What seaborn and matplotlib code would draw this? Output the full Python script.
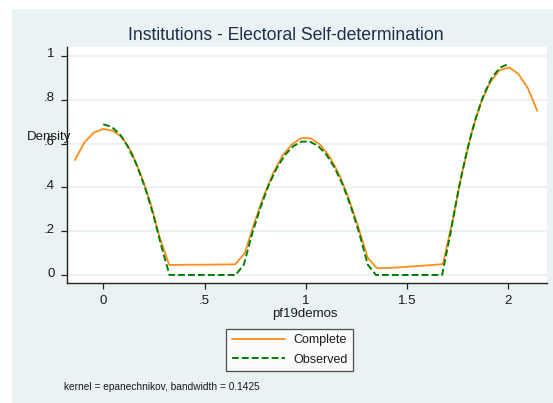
import numpy as np
import pandas as pd
import matplotlib
matplotlib.use("Agg")
from matplotlib import pyplot as plt
from matplotlib.patches import Rectangle
from matplotlib.transforms import ScaledTranslation
import seaborn as sns

# Kernel density estimates (50 evaluation points each)
complete_x = [-0.140, -0.093, -0.047, 0.000, 0.046, 0.093, 0.140, 0.186, 0.233, 0.279,
              0.326, 0.373, 0.419, 0.466, 0.512, 0.559, 0.606, 0.652, 0.699, 0.745,
              0.792, 0.839, 0.885, 0.932, 0.978, 1.025, 1.072, 1.118, 1.165, 1.211,
              1.258, 1.305, 1.351, 1.398, 1.444, 1.491, 1.538, 1.584, 1.631, 1.677,
              1.724, 1.771, 1.817, 1.864, 1.910, 1.957, 2.004, 2.050, 2.097, 2.143]
complete_y = [0.525, 0.605, 0.650, 0.667, 0.659, 0.629, 0.560, 0.457, 0.330, 0.170,
              0.046, 0.046, 0.047, 0.047, 0.047, 0.048, 0.048, 0.049, 0.100, 0.235,
              0.360, 0.465, 0.545, 0.597, 0.625, 0.624, 0.594, 0.540, 0.458, 0.352,
              0.222, 0.080, 0.031, 0.032, 0.034, 0.037, 0.040, 0.043, 0.046, 0.050,
              0.245, 0.465, 0.645, 0.785, 0.880, 0.935, 0.948, 0.918, 0.852, 0.749]

observed_x = [0.000, 0.041, 0.082, 0.122, 0.163, 0.204, 0.245, 0.286, 0.327, 0.367,
              0.408, 0.449, 0.490, 0.531, 0.571, 0.612, 0.653, 0.694, 0.735, 0.776,
              0.816, 0.857, 0.898, 0.939, 0.980, 1.020, 1.061, 1.102, 1.143, 1.184,
              1.224, 1.265, 1.306, 1.347, 1.388, 1.429, 1.469, 1.510, 1.551, 1.592,
              1.633, 1.673, 1.714, 1.755, 1.796, 1.837, 1.878, 1.918, 1.959, 2.000]
observed_y = [0.688, 0.677, 0.643, 0.586, 0.507, 0.406, 0.282, 0.135, 0.000, 0.000,
              0.000, 0.000, 0.000, 0.000, 0.000, 0.000, 0.000, 0.047, 0.188, 0.308,
              0.409, 0.489, 0.549, 0.589, 0.609, 0.609, 0.589, 0.549, 0.489, 0.409,
              0.308, 0.188, 0.047, 0.000, 0.000, 0.000, 0.000, 0.000, 0.000, 0.000,
              0.000, 0.000, 0.189, 0.394, 0.568, 0.710, 0.821, 0.900, 0.947, 0.963]

x_ticks = [0, 0.5, 1, 1.5, 2]
x_labels = ["0", ".5", "1", "1.5", "2"]
y_ticks = [0, 0.2, 0.4, 0.6, 0.8, 1]
y_labels = ["0", ".2", ".4", ".6", ".8", "1"]

BG = "#EAF2F3"
ORANGE = "#FF8C1A"
GREEN = "#008000"
TXT = "#1a1a1a"

sns.set_style("white")
plt.rcParams["font.family"] = ["Liberation Sans", "DejaVu Sans"]

W, H = 553, 403
fig = plt.figure(figsize=(W / 100, H / 100), dpi=100)
fig.patch.set_facecolor("white")
# grey-blue graph region (Stata s2color look)
fig.patches.append(Rectangle((12 / W, 0), 1 - 12 / W, 1 - 9 / H,
                             transform=fig.transFigure, facecolor=BG,
                             edgecolor="none", zorder=-10))

ax = fig.add_axes([67 / W, 1 - 283 / H, (547 - 67) / W, (283 - 47) / H])
ax.set_facecolor("white")

df_c = pd.DataFrame({"x": complete_x, "y": complete_y})
df_o = pd.DataFrame({"x": observed_x, "y": observed_y})
sns.lineplot(data=df_c, x="x", y="y", ax=ax, color=ORANGE, lw=1.3,
             label="Complete", zorder=3)
sns.lineplot(data=df_o, x="x", y="y", ax=ax, color=GREEN, lw=1.4,
             label="Observed", zorder=4)
ax.lines[1].set_dashes((3.5, 1.6))

ax.set_xlim(-0.179, 2.191)
ax.set_ylim(-0.0365, 1.041)
ax.set_xticks(x_ticks, x_labels)
ax.set_yticks(y_ticks, y_labels)
ax.grid(axis="y", color=BG, lw=1.5)
ax.grid(axis="x", visible=False)
for s in ["top", "right"]:
    ax.spines[s].set_visible(False)
for s in ["left", "bottom"]:
    ax.spines[s].set_color("#222222")
    ax.spines[s].set_linewidth(1.0)
ax.tick_params(axis="both", direction="out", length=4.5, width=0.9,
               color="#222222", labelsize=9.5, labelcolor=TXT,
               left=True, bottom=True)
ax.tick_params(axis="y", pad=4.5)
ax.tick_params(axis="x", pad=4)
# Stata draws the y labels a touch above their ticks
for lbl in ax.get_yticklabels():
    lbl.set_transform(lbl.get_transform() + ScaledTranslation(0, 3 / 100, fig.dpi_scale_trans))

ax.set_xlabel("")
ax.set_ylabel("")
fig.text(305 / W, 1 - 314 / H, "pf19demos", ha="center", va="center",
         fontsize=9.5, color=TXT)
fig.text(27 / W, 1 - 137 / H, "Density", ha="left", va="center",
         fontsize=9.5, color=TXT)
fig.text(285.5 / W, 1 - 35 / H, "Institutions - Electoral Self-determination",
         ha="center", va="center", fontsize=12.7, color="#1C2E4A")
fig.text(64 / W, 1 - 386.5 / H, "kernel = epanechnikov, bandwidth = 0.1425",
         ha="left", va="center", fontsize=7.3, color=TXT)

ax.get_legend().remove()
handles, labels = ax.get_legend_handles_labels()
handles[1].set_dashes((3.5, 1.6))
leg = fig.legend(handles, labels, loc="center",
                 bbox_to_anchor=(289.5 / W, 1 - 350 / H),
                 frameon=True, fancybox=False, fontsize=9,
                 handlelength=4.3, handletextpad=0.6, labelspacing=0.6,
                 borderpad=0.45, borderaxespad=0)
leg.get_frame().set_edgecolor("#222222")
leg.get_frame().set_linewidth(0.9)
for t in leg.get_texts():
    t.set_color(TXT)

fig.savefig("out.png", dpi=100)
